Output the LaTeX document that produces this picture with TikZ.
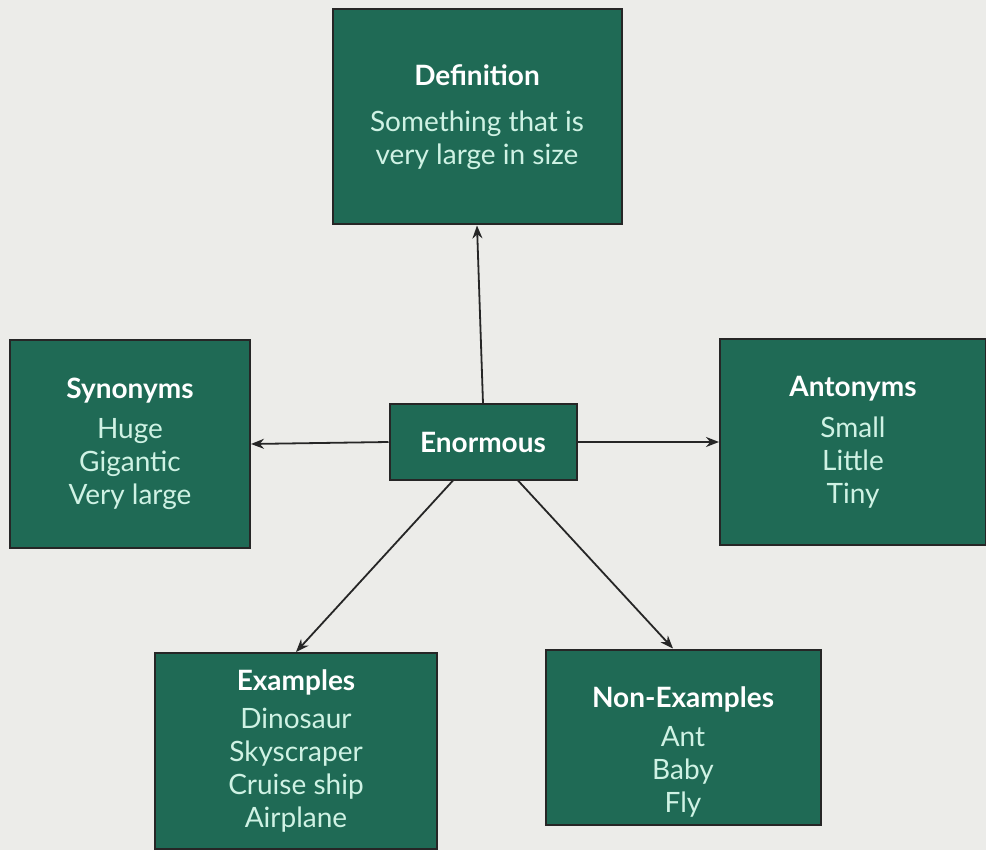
\documentclass[tikz,border=0pt]{standalone}
\usepackage{fontspec}
\setmainfont{Lato}
\usetikzlibrary{arrows.meta}
\definecolor{cardgreen}{HTML}{1F6A55}
\definecolor{cardtext}{HTML}{CFF2E4}
\definecolor{paper}{HTML}{ECECE9}
\newcommand{\cardtitle}[1]{\textcolor{white}{\bfseries #1}}
\newcommand{\cardScale}[0]{1pt}

\begin{document}
\begin{tikzpicture}[x=\cardScale, y=-\cardScale]
  \tikzset{card/.style={draw=black!85, line width=2pt, fill=cardgreen,
      text=cardtext, align=center, inner sep=0pt,
      font=\fontsize{28}{33}\selectfont},
    link/.style={draw=black!85, line width=1.8pt,
      -{Stealth[length=13pt,width=10pt]}}}
  \fill[paper] (0,0) rectangle (986,850);
  \useasboundingbox (0,0) rectangle (986,850);
  \node[card, minimum width=289pt, minimum height=215pt] (def) at (477,117)
    {\cardtitle{Definition}\\[13pt]Something that is\\very large in size};
  \node[card, minimum width=240pt, minimum height=208pt] (syn) at (130,444)
    {\cardtitle{Synonyms}\\[7pt]Huge\\Gigantic\\Very large};
  \node[card, minimum width=187pt, minimum height=75pt] (enorm) at (483,442)
    {\cardtitle{Enormous}};
  \node[card, minimum width=266pt, minimum height=205pt] (ant) at (853,442)
    {\cardtitle{Antonyms}\\[8pt]Small\\Little\\Tiny};
  \node[card, minimum width=282pt, minimum height=196pt] (ex) at (296,751)
    {\cardtitle{Examples}\\[5pt]Dinosaur\\Skyscraper\\Cruise ship\\Airplane};
  \node[card, minimum width=275pt, minimum height=175pt] (nonex) at (683,737)
    {\rule{0pt}{50pt}\cardtitle{Non-Examples}\\[6pt]Ant\\Baby\\Fly};
  \draw[link] (enorm.north) -- (def.south);
  \draw[link] (enorm.west) -- (syn.east);
  \draw[link] (enorm.east) -- (ant.west);
  \draw[link] ([xshift=-30pt]enorm.south) -- (ex.north);
  \draw[link] ([xshift=35pt]enorm.south) -- ([xshift=-10pt]nonex.north);
\end{tikzpicture}
\end{document}
